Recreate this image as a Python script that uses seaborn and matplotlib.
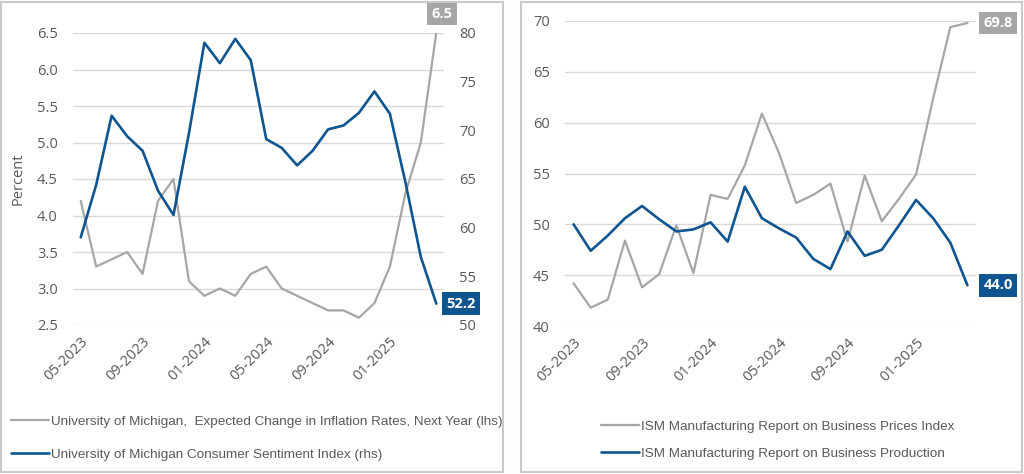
import numpy as np
import pandas as pd
import seaborn as sns
import matplotlib.pyplot as plt
from matplotlib.patches import Rectangle

months = pd.date_range("2023-05-01", periods=24, freq="MS").strftime("%m-%Y").tolist()
tick_idx = [0, 4, 8, 12, 16, 20]

# left panel
infl_exp = [4.2, 3.3, 3.4, 3.5, 3.2, 4.2, 4.5, 3.1, 2.9, 3.0, 2.9, 3.2,
            3.3, 3.0, 2.9, 2.8, 2.7, 2.7, 2.6, 2.8, 3.3, 4.3, 5.0, 6.5]
sentiment = [59.0, 64.4, 71.5, 69.4, 67.9, 63.8, 61.3, 69.7, 79.0, 76.9, 79.4, 77.2,
             69.1, 68.2, 66.4, 67.9, 70.1, 70.5, 71.8, 74.0, 71.7, 64.7, 57.0, 52.2]

# right panel
ism_prices = [44.2, 41.8, 42.6, 48.4, 43.8, 45.1, 49.9, 45.2, 52.9, 52.5, 55.8, 60.9,
              57.0, 52.1, 52.9, 54.0, 48.3, 54.8, 50.3, 52.5, 54.9, 62.4, 69.4, 69.8]
ism_production = [50.0, 47.4, 48.9, 50.6, 51.8, 50.5, 49.3, 49.5, 50.2, 48.3, 53.7, 50.6,
                  49.6, 48.7, 46.6, 45.6, 49.3, 46.9, 47.5, 49.9, 52.4, 50.6, 48.2, 44.0]

GRAY = "#a6a6a6"
BLUE = "#0f558f"
TXT = "#595959"

sns.set_style("white")
plt.rcParams["font.family"] = ["Open Sans", "DejaVu Sans"]
LEG_FONT = {"family": ["Liberation Sans", "DejaVu Sans"], "size": 9.7}

df = pd.DataFrame({"i": np.arange(24), "month": months, "infl": infl_exp, "sent": sentiment,
                   "prices": ism_prices, "prod": ism_production})

fig = plt.figure(figsize=(10.24, 4.74), dpi=100)

# panel frames
for x0, x1 in [(1, 503), (521, 1022)]:
    fig.patches.append(Rectangle((x0 / 1024, 2 / 474), (x1 - x0) / 1024, 470 / 474,
                                 transform=fig.transFigure, fill=False,
                                 ec="#c9c9c9", lw=1.5))


def style_axis(ax, ylim, yticks, fmt):
    ax.set_xlim(-0.5, 23.5)
    ax.set_ylim(*ylim)
    ax.set_yticks(yticks)
    ax.set_yticklabels([fmt.format(v) for v in yticks])
    ax.tick_params(length=0, labelsize=10.5, colors=TXT, pad=11)
    for s in ax.spines.values():
        s.set_visible(False)
    ax.set_xlabel("")
    ax.set_ylabel("")


def style_x(ax):
    ax.set_xticks(tick_idx)
    ax.set_xticklabels([months[i] for i in tick_idx], rotation=45, ha="right",
                       va="top", rotation_mode="anchor")
    ax.tick_params(axis="x", pad=7, labelsize=10.5)


def value_box(ax, x, y, text, color, dx, dy):
    ax.annotate(text, xy=(x, y), xytext=(dx, dy), textcoords="offset points",
                ha="center", va="center", color="white", fontsize=10.5,
                fontweight="bold",
                bbox=dict(boxstyle="square,pad=0.3", fc=color, ec="none"))


# ---- left panel ----
ax1 = fig.add_axes([73 / 1024, 1 - 325 / 474, 371 / 1024, 292 / 474])
ax1.grid(axis="y", color="#d9d9d9", lw=1)
ax1.set_axisbelow(True)
sns.lineplot(data=df, x="i", y="infl", ax=ax1, color=GRAY, lw=1.6,
             label="University of Michigan,  Expected Change in Inflation Rates, Next Year (lhs)",
             legend=False)
style_axis(ax1, (2.5, 6.5), np.arange(2.5, 6.51, 0.5), "{:.1f}")
ax1.set_ylabel("Percent", fontsize=10.5, color=TXT, labelpad=8)

ax1b = ax1.twinx()
sns.lineplot(data=df, x="i", y="sent", ax=ax1b, color=BLUE, lw=1.9,
             label="University of Michigan Consumer Sentiment Index (rhs)", legend=False)
style_axis(ax1b, (50, 80), np.arange(50, 81, 5), "{:.0f}")
style_x(ax1)
ax1b.tick_params(axis="x", labelbottom=False)

value_box(ax1b, 23, 80, "6.5", GRAY, 4, 14)
value_box(ax1b, 23, sentiment[-1], f"{sentiment[-1]:.1f}", BLUE, 18, 0)

h1, l1 = ax1.get_legend_handles_labels()
h2, l2 = ax1b.get_legend_handles_labels()
fig.legend(h1 + h2, l1 + l2, loc="upper left", bbox_to_anchor=(-1 / 1024, 1 - 403 / 474),
           frameon=False, prop=LEG_FONT, labelcolor=TXT,
           handlelength=2.8, handletextpad=0.15, labelspacing=1.55)

# ---- right panel ----
ax2 = fig.add_axes([565 / 1024, 1 - 326 / 474, 411 / 1024, 305 / 474])
ax2.grid(axis="y", color="#d9d9d9", lw=1)
ax2.set_axisbelow(True)
sns.lineplot(data=df, x="i", y="prices", ax=ax2, color=GRAY, lw=1.6,
             label="ISM Manufacturing Report on Business Prices Index", legend=False)
sns.lineplot(data=df, x="i", y="prod", ax=ax2, color=BLUE, lw=1.9,
             label="ISM Manufacturing Report on Business Production", legend=False)
style_axis(ax2, (40, 70), np.arange(40, 71, 5), "{:.0f}")
style_x(ax2)

value_box(ax2, 23, ism_prices[-1], f"{ism_prices[-1]:.1f}", GRAY, 22, 0)
value_box(ax2, 23, ism_production[-1], f"{ism_production[-1]:.1f}", BLUE, 22, 0)

h3, l3 = ax2.get_legend_handles_labels()
fig.legend(h3, l3, loc="upper left", bbox_to_anchor=(589 / 1024, 1 - 408 / 474),
           frameon=False, prop=LEG_FONT, labelcolor=TXT,
           handlelength=2.8, handletextpad=0.15, labelspacing=1.1)

fig.savefig("out.png", dpi=100)
